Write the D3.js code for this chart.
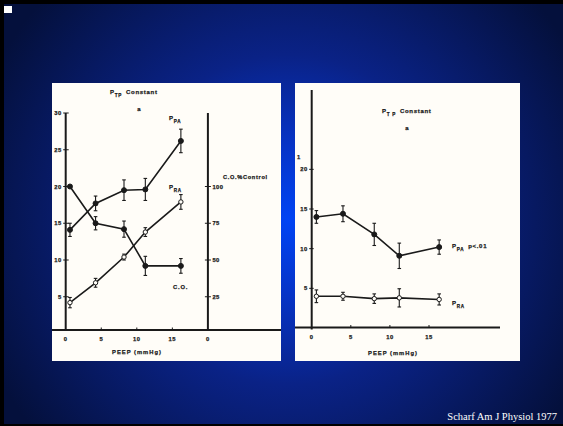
<!DOCTYPE html>
<html>
<head>
<meta charset="utf-8">
<script src="https://cdn.jsdelivr.net/npm/d3@7"></script>
<style>
  html, body { margin: 0; padding: 0; background: #000; }
  svg { display: block; }
  .lbl { font-family: "Liberation Sans", Arial, sans-serif; font-weight: bold; fill: #1a1a1a; stroke: #1a1a1a; stroke-width: 0.25; }
</style>
</head>
<body>
<div id="chart"></div>
<script>
// PEEP levels (mmHg)
const peepLeft = [0.6, 4.2, 8.2, 11.2, 16.2];
const peepRight = [0.6, 4.0, 8.0, 11.2, 16.3];

// panel a (left)
const ppaLeft = [14.1, 17.7, 19.5, 19.6, 26.2];
const ppaLeftErr = [0.9, 1.0, 1.4, 1.5, 1.6];
const praLeft = [4.2, 6.9, 10.4, 13.8, 17.9];
const praLeftErr = [0.7, 0.6, 0.4, 0.6, 1.0];
const coPct = [100, 75, 71, 46, 46];
const coErr = [0, 4.5, 5.5, 6.5, 5];

// panel b (right)
const ppaRight = [14.0, 14.4, 11.8, 9.1, 10.2];
const ppaRightErr = [0.8, 1.0, 1.4, 1.6, 0.9];
const praRight = [4.0, 4.0, 3.7, 3.8, 3.6];
const praRightErr = [0.8, 0.5, 0.6, 1.15, 0.7];

const xTicksLeft = [0, 5, 10, 15, 20];
const xTickLabelsLeft = ['0', '5', '10', '15', '0'];
const yTicksLeft = [5, 10, 15, 20, 25, 30];
const coTicks = [25, 50, 75, 100];
const xTicksRight = [0, 5, 10, 15];
const yTicksRight = [5, 10, 15, 20];

const W = 563, H = 426;
const svg = d3.select('#chart').append('svg')
    .attr('width', W).attr('height', H);

// slide background
const defs = svg.append('defs');
const grad = defs.append('radialGradient')
    .attr('id', 'bg')
    .attr('gradientUnits', 'userSpaceOnUse')
    .attr('cx', 288).attr('cy', 220).attr('r', 330);
[[0, '#0044f4'], [0.22, '#0634c8'], [0.5, '#0a2286'], [1, '#04103c']].forEach(s => {
    grad.append('stop').attr('offset', s[0]).attr('stop-color', s[1]);
});
svg.append('rect').attr('width', W).attr('height', H).attr('fill', '#000');
svg.append('rect').attr('x', 4).attr('y', 4).attr('width', W - 4).attr('height', H - 6)
    .attr('fill', 'url(#bg)');
svg.append('rect').attr('x', 4).attr('y', 6).attr('width', 8).attr('height', 7).attr('fill', '#fff');

// white panels
svg.append('rect').attr('x', 52).attr('y', 83).attr('width', 229).attr('height', 278).attr('fill', '#fffdf8');
svg.append('rect').attr('x', 295).attr('y', 83).attr('width', 225).attr('height', 278).attr('fill', '#fffdf8');

svg.append('text')
    .attr('x', 557).attr('y', 420)
    .attr('text-anchor', 'end')
    .attr('font-family', '"Liberation Serif", "Times New Roman", serif')
    .attr('font-size', 10.5)
    .attr('fill', '#fff')
    .text('Scharf Am J Physiol 1977');

const ink = '#1a1a1a';

// subscript label helper
function subLabel(g, x, y, main, sub, rest, anchor) {
    const t = g.append('text').attr('class', 'lbl')
        .attr('x', x).attr('y', y).attr('font-size', 6)
        .attr('letter-spacing', 0.7)
        .attr('text-anchor', anchor || 'start');
    t.append('tspan').text(main);
    t.append('tspan').attr('font-size', 4.6).attr('dy', 2.5).text(sub);
    if (rest) t.append('tspan').attr('dy', -2.5).attr('dx', 4).text(rest);
}

function drawSeries(g, x, y, xs, ys, errs, filled) {
    const pts = xs.map((d, i) => ({ x: d, y: ys[i], e: errs[i] }));
    g.append('path')
        .datum(pts)
        .attr('fill', 'none').attr('stroke', ink).attr('stroke-width', 1.6)
        .attr('d', d3.line().x(d => x(d.x)).y(d => y(d.y)));
    const eb = g.selectAll(null).data(pts.filter(d => d.e > 0)).enter().append('g')
        .attr('stroke', ink).attr('stroke-width', 1.1);
    eb.append('line')
        .attr('x1', d => x(d.x)).attr('x2', d => x(d.x))
        .attr('y1', d => y(d.y - d.e)).attr('y2', d => y(d.y + d.e));
    eb.append('line')
        .attr('x1', d => x(d.x) - 1.8).attr('x2', d => x(d.x) + 1.8)
        .attr('y1', d => y(d.y + d.e)).attr('y2', d => y(d.y + d.e));
    eb.append('line')
        .attr('x1', d => x(d.x) - 1.8).attr('x2', d => x(d.x) + 1.8)
        .attr('y1', d => y(d.y - d.e)).attr('y2', d => y(d.y - d.e));
    g.selectAll(null).data(pts).enter().append('circle')
        .attr('cx', d => x(d.x)).attr('cy', d => y(d.y))
        .attr('r', filled ? 2.5 : 2.2)
        .attr('fill', filled ? ink : '#fffdf8')
        .attr('stroke', ink).attr('stroke-width', 1);
}

// ---------- left panel (a) ----------
const gl = svg.append('g');
const xL = d3.scaleLinear().domain([0, 20]).range([65.7, 207.9]);
const yL = d3.scaleLinear().domain([0, 30]).range([333.5, 113]);
const yCO = d3.scaleLinear().domain([0, 150]).range([333.5, 113]);
const axisYL = 330;

gl.append('line').attr('x1', 52).attr('x2', 281).attr('y1', axisYL).attr('y2', axisYL)
    .attr('stroke', ink).attr('stroke-width', 2);
gl.append('line').attr('x1', xL(0)).attr('x2', xL(0)).attr('y1', yL(30)).attr('y2', axisYL)
    .attr('stroke', ink).attr('stroke-width', 2);
gl.append('line').attr('x1', xL(20)).attr('x2', xL(20)).attr('y1', yL(30)).attr('y2', axisYL)
    .attr('stroke', ink).attr('stroke-width', 2);

gl.selectAll(null).data(yTicksLeft).enter().append('line')
    .attr('x1', xL(0) - 2.5).attr('x2', xL(0) + 3)
    .attr('y1', d => yL(d)).attr('y2', d => yL(d))
    .attr('stroke', ink).attr('stroke-width', 1);
gl.selectAll(null).data(yTicksLeft).enter().append('text').attr('class', 'lbl')
    .attr('x', xL(0) - 4).attr('y', d => yL(d) + 2)
    .attr('text-anchor', 'end').attr('font-size', 5.8).attr('letter-spacing', 0.5)
    .text(d => d);

gl.selectAll(null).data(coTicks).enter().append('line')
    .attr('x1', xL(20) - 3).attr('x2', xL(20) + 3)
    .attr('y1', d => yCO(d)).attr('y2', d => yCO(d))
    .attr('stroke', ink).attr('stroke-width', 1);
gl.selectAll(null).data(coTicks).enter().append('text').attr('class', 'lbl')
    .attr('x', xL(20) + 4.5).attr('y', d => yCO(d) + 2)
    .attr('font-size', 5.8).attr('letter-spacing', 0.5)
    .text(d => d);

gl.selectAll(null).data(xTicksLeft.slice(1, 4)).enter().append('line')
    .attr('x1', d => xL(d)).attr('x2', d => xL(d))
    .attr('y1', axisYL - 2.5).attr('y2', axisYL)
    .attr('stroke', ink).attr('stroke-width', 1);
gl.selectAll(null).data(xTicksLeft).enter().append('text').attr('class', 'lbl')
    .attr('x', d => xL(d)).attr('y', 341)
    .attr('text-anchor', 'middle').attr('font-size', 5.8).attr('letter-spacing', 0.5)
    .text((d, i) => xTickLabelsLeft[i]);

gl.append('text').attr('class', 'lbl')
    .attr('x', 137).attr('y', 354).attr('text-anchor', 'middle')
    .attr('font-size', 5.8).attr('letter-spacing', 1)
    .text('PEEP (mmHg)');

subLabel(gl, 110, 94, 'P', 'TP', 'Constant', 'start');
gl.append('text').attr('class', 'lbl').attr('x', 139).attr('y', 111)
    .attr('font-size', 6).attr('text-anchor', 'middle').text('a');
subLabel(gl, 169, 120, 'P', 'PA');
subLabel(gl, 169, 189, 'P', 'RA');
gl.append('text').attr('class', 'lbl').attr('x', 173).attr('y', 289)
    .attr('font-size', 5.8).attr('letter-spacing', 0.8).text('C.O.');
gl.append('text').attr('class', 'lbl').attr('x', 223).attr('y', 179)
    .attr('font-size', 5.6).attr('letter-spacing', 0.7).text('C.O.%Control');

drawSeries(gl, xL, yL, peepLeft, praLeft, praLeftErr, false);
drawSeries(gl, xL, yCO, peepLeft, coPct, coErr, true);
drawSeries(gl, xL, yL, peepLeft, ppaLeft, ppaLeftErr, true);

// ---------- right panel (b) ----------
const gr = svg.append('g');
const xR = d3.scaleLinear().domain([0, 15]).range([311.7, 429]);
const yR = d3.scaleLinear().domain([0, 30]).range([328, 90]);
const axisYR = 327.5;

gr.append('line').attr('x1', 295).attr('x2', 500).attr('y1', axisYR).attr('y2', axisYR)
    .attr('stroke', ink).attr('stroke-width', 2);
gr.append('line').attr('x1', xR(0)).attr('x2', xR(0)).attr('y1', yR(30)).attr('y2', axisYR + 2)
    .attr('stroke', ink).attr('stroke-width', 2);

gr.selectAll(null).data(yTicksRight).enter().append('line')
    .attr('x1', xR(0) - 2.5).attr('x2', xR(0) + 2)
    .attr('y1', d => yR(d)).attr('y2', d => yR(d))
    .attr('stroke', ink).attr('stroke-width', 1);
gr.selectAll(null).data(yTicksRight).enter().append('text').attr('class', 'lbl')
    .attr('x', xR(0) - 4).attr('y', d => yR(d) + 2)
    .attr('text-anchor', 'end').attr('font-size', 5.8).attr('letter-spacing', 0.5)
    .text(d => d);
gr.append('text').attr('class', 'lbl').attr('x', 297).attr('y', 159)
    .attr('font-size', 5.8).text('1');

gr.selectAll(null).data(xTicksRight.slice(1)).enter().append('line')
    .attr('x1', d => xR(d)).attr('x2', d => xR(d))
    .attr('y1', axisYR - 2.5).attr('y2', axisYR)
    .attr('stroke', ink).attr('stroke-width', 1);
gr.selectAll(null).data(xTicksRight).enter().append('text').attr('class', 'lbl')
    .attr('x', d => xR(d)).attr('y', 339)
    .attr('text-anchor', 'middle').attr('font-size', 5.8).attr('letter-spacing', 0.5)
    .text(d => d);

gr.append('text').attr('class', 'lbl')
    .attr('x', 393).attr('y', 355).attr('text-anchor', 'middle')
    .attr('font-size', 5.8).attr('letter-spacing', 1)
    .text('PEEP (mmHg)');

subLabel(gr, 382, 113, 'P', 'T P', 'Constant', 'start');
gr.append('text').attr('class', 'lbl').attr('x', 407).attr('y', 130)
    .attr('font-size', 6).attr('text-anchor', 'middle').text('a');
subLabel(gr, 452, 248, 'P', 'PA', 'p<.01');
subLabel(gr, 452, 305, 'P', 'RA');

drawSeries(gr, xR, yR, peepRight, praRight, praRightErr, false);
drawSeries(gr, xR, yR, peepRight, ppaRight, ppaRightErr, true);
</script>
</body>
</html>
